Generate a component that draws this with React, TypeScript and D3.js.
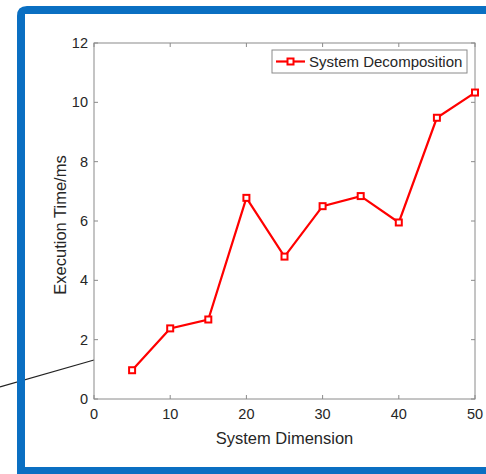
import React from "react";
import * as d3 from "d3";

const width = 486;
const height = 474;
const margin = { top: 43, right: 11, bottom: 75, left: 94 };

const dimensions = [5, 10, 15, 20, 25, 30, 35, 40, 45, 50];
const execTimes = [0.97, 2.38, 2.68, 6.78, 4.8, 6.5, 6.84, 5.95, 9.48, 10.33];
const xTicks = [0, 10, 20, 30, 40, 50];
const yTicks = [0, 2, 4, 6, 8, 10, 12];
const seriesName = "System Decomposition";

const font = "'Liberation Sans', Arial, sans-serif";
const axisColor = "#8a8a8a";
const textColor = "#262626";

const App = () => {
  const xScale = d3.scaleLinear().domain([0, 50]).range([margin.left, width - margin.right]);
  const yScale = d3.scaleLinear().domain([0, 12]).range([height - margin.bottom, margin.top]);
  const line = d3
    .line<number>()
    .x((d, i) => xScale(dimensions[i]))
    .y(d => yScale(d));

  const x0 = xScale(0);
  const x1 = xScale(50);
  const y0 = yScale(0);
  const y1 = yScale(12);

  return (
    <svg width={width} height={height} style={{ position: "absolute", left: 0, top: 0 }}>
      <rect width={width} height={height} fill="#fff" />
      {/* stray black line from the original screenshot */}
      <line x1={0} y1={387} x2={x0} y2={360} stroke="#222" strokeWidth={1.3} />
      {/* blue frame */}
      <path
        d={`M17,${height} L17,16 Q17,6 27,6 L${width},6 L${width},14 L25,14 L25,467 L${width},467 L${width},${height} Z`}
        fill="#0a6fc2"
      />

      {/* axes box */}
      <rect x={x0} y={y1} width={x1 - x0} height={y0 - y1} fill="none" stroke={axisColor} strokeWidth={1} />
      {xTicks.map(t => (
        <g key={"x" + t}>
          <line x1={xScale(t)} x2={xScale(t)} y1={y0} y2={y0 - 4} stroke={axisColor} />
          <line x1={xScale(t)} x2={xScale(t)} y1={y1} y2={y1 + 4} stroke={axisColor} />
          <text x={xScale(t)} y={y0 + 19.5} textAnchor="middle" fontFamily={font} fontSize={14.5} fill={textColor}>
            {t}
          </text>
        </g>
      ))}
      {yTicks.map(t => (
        <g key={"y" + t}>
          <line x1={x0} x2={x0 + 4} y1={yScale(t)} y2={yScale(t)} stroke={axisColor} />
          <line x1={x1} x2={x1 - 4} y1={yScale(t)} y2={yScale(t)} stroke={axisColor} />
          <text x={x0 - 6} y={yScale(t) + 5} textAnchor="end" fontFamily={font} fontSize={14.5} fill={textColor}>
            {t}
          </text>
        </g>
      ))}
      <text x={(x0 + x1) / 2} y={444} textAnchor="middle" fontFamily={font} fontSize={16.5} fill={textColor}>
        System Dimension
      </text>
      <text
        transform={`translate(66, ${(y0 + y1) / 2 + 4}) rotate(-90)`}
        textAnchor="middle"
        fontFamily={font}
        fontSize={16.5}
        fill={textColor}
      >
        Execution Time/ms
      </text>

      {/* series */}
      <path d={line(execTimes) || ""} fill="none" stroke="#ff0000" strokeWidth={2.2} />
      {execTimes.map((v, i) => (
        <rect
          key={i}
          x={xScale(dimensions[i]) - 3}
          y={yScale(v) - 3}
          width={6}
          height={6}
          fill="#fff"
          stroke="#ff0000"
          strokeWidth={2}
        />
      ))}

      {/* legend */}
      <rect x={272} y={50} width={195} height={23} fill="#fff" stroke={axisColor} />
      <line x1={276} x2={305} y1={61.5} y2={61.5} stroke="#ff0000" strokeWidth={2.2} />
      <rect x={287.5} y={58.5} width={6} height={6} fill="#fff" stroke="#ff0000" strokeWidth={2} />
      <text x={309} y={67} fontFamily={font} fontSize={15} fill={textColor}>
        {seriesName}
      </text>
    </svg>
  );
};

export default App;
